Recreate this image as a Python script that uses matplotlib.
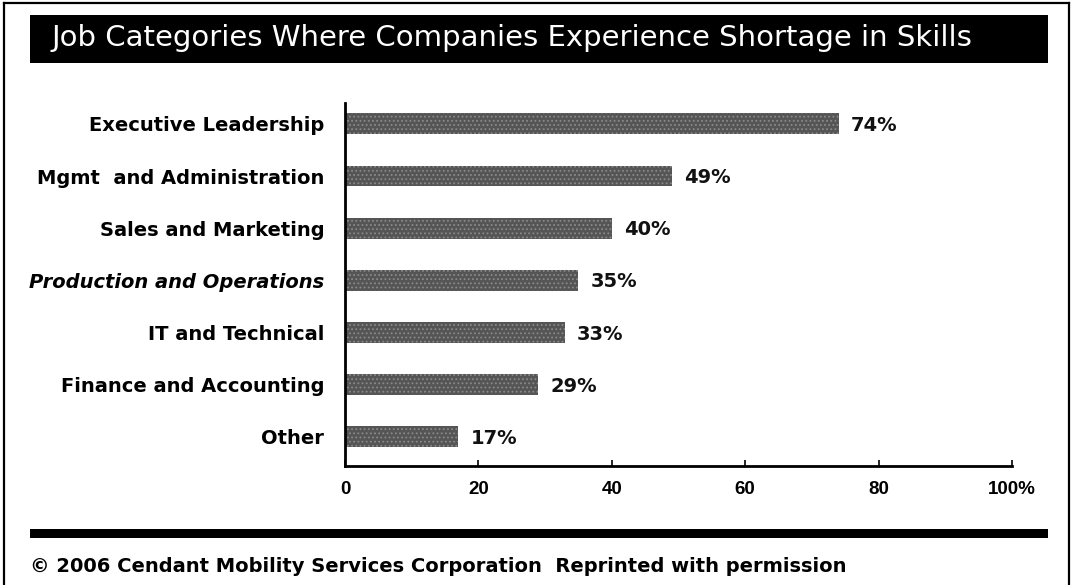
import matplotlib
matplotlib.use("Agg")
import matplotlib.pyplot as plt
from matplotlib.patches import Rectangle
from matplotlib.lines import Line2D

categories = [
    "Executive Leadership",
    "Mgmt  and Administration",
    "Sales and Marketing",
    "Production and Operations",
    "IT and Technical",
    "Finance and Accounting",
    "Other",
]
shares = [74, 49, 40, 35, 33, 29, 17]
tick_values = [0, 20, 40, 60, 80, 100]
tick_labels = ["0", "20", "40", "60", "80", "100%"]
title = "Job Categories Where Companies Experience Shortage in Skills"
credit = "\u00a9 2006 Cendant Mobility Services Corporation  Reprinted with permission"

plt.rcParams["font.family"] = ["DejaVu Sans"]
plt.rcParams["hatch.linewidth"] = 0.8

W, H = 1074, 585
fig = plt.figure(figsize=(W / 100, H / 100), dpi=100)
fig.patch.set_facecolor("white")


def px_line(xs, ys, lw):
    fig.add_artist(Line2D([x / W for x in xs], [1 - y / H for y in ys],
                          color="black", lw=lw, transform=fig.transFigure))


def px_rect(x0, y0, x1, y1):
    fig.add_artist(Rectangle((x0 / W, 1 - y1 / H), (x1 - x0) / W,
                             (y1 - y0) / H, transform=fig.transFigure,
                             facecolor="black", edgecolor="none"))


# outer frame (left, top, right)
px_line([4, 4], [585, 3], 1.6)
px_line([4, 1069], [3, 3], 1.6)
px_line([1069, 1069], [3, 585], 1.6)

# title banner
px_rect(30, 15, 1048, 63)
fig.text(52 / W, 1 - 38 / H, title, color="white", fontsize=21,
         ha="left", va="center")

# bottom rule and credit line
px_rect(30, 529, 1048, 538)
fig.text(30 / W, 1 - 567 / H, credit, color="black", fontsize=14,
         fontweight="bold", ha="left", va="center")

ax = fig.add_axes([345 / W, 1 - 466 / H, (1012 - 345) / W, (466 - 103) / H])
y = list(range(len(categories)))
ax.barh(y, shares, height=0.40, color="#555555", edgecolor="#8a8a8a",
        hatch="....", linewidth=0)

for yi, v in zip(y, shares):
    ax.text(v + 1.8, yi + 0.03, f"{v}%", va="center", ha="left",
            fontsize=14, fontweight="bold", color="#111111")

ax.set_xlim(0, 100)
ax.set_ylim(6.56, -0.40)
ax.set_xticks(tick_values)
ax.set_xticklabels(tick_labels, fontsize=13.5, fontweight="bold",
                   family=["Liberation Sans", "DejaVu Sans"])
ax.set_yticks(y)
ax.set_yticklabels(categories, fontsize=14, fontweight="bold")
for lbl in ax.get_yticklabels():
    if lbl.get_text().startswith("Production"):
        lbl.set_style("italic")

ax.tick_params(axis="x", direction="in", length=4, width=1.2, pad=11,
               colors="black")
ax.tick_params(axis="y", length=0, pad=15)
for side in ("top", "right"):
    ax.spines[side].set_visible(False)
for side in ("left", "bottom"):
    ax.spines[side].set_linewidth(2)
    ax.spines[side].set_color("black")
ax.set_facecolor("white")

fig.savefig("out.png", dpi=100, facecolor="white")
